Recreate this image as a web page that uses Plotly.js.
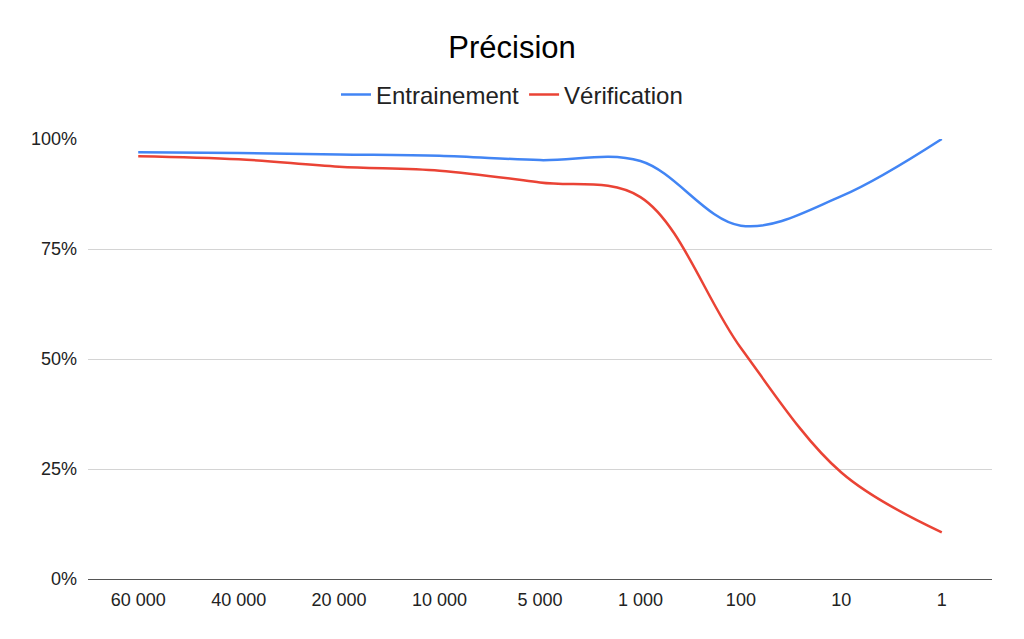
<!DOCTYPE html>
<html>
<head>
<meta charset="utf-8">
<script src="https://cdn.plot.ly/plotly-3.0.1.min.js"></script>
<style>html,body{margin:0;padding:0;background:#fff;}#chart{width:1024px;height:639px;}</style>
</head>
<body>
<div id="chart"></div>
<script>
const categories = ["60 000", "40 000", "20 000", "10 000", "5 000", "1 000", "100", "10", "1"];
const entrainement = [0.970, 0.968, 0.965, 0.962, 0.952, 0.950, 0.803, 0.870, 1.000];
const verification = [0.961, 0.954, 0.937, 0.928, 0.901, 0.868, 0.525, 0.242, 0.106];
const yTickVals = [0, 0.25, 0.5, 0.75, 1];
const yTickText = ["0%", "25%", "50%", "75%", "100%"];

const font = "Arial, 'Liberation Sans', sans-serif";

const traces = [
  {x: categories, y: entrainement, name: "Entrainement", type: "scatter", mode: "lines",
   line: {color: "#4285F4", width: 2.5, shape: "spline", smoothing: 1}},
  {x: categories, y: verification, name: "Vérification", type: "scatter", mode: "lines",
   line: {color: "#EA4335", width: 2.5, shape: "spline", smoothing: 1}}
];

const layout = {
  width: 1024, height: 639,
  margin: {l: 88, r: 32, t: 139, b: 60},
  paper_bgcolor: "#fff", plot_bgcolor: "#fff",
  font: {family: font, color: "#222", size: 18},
  title: {text: "Précision", x: 0.5, xref: "container", xanchor: "center", y: 1 - 47/639, yref: "container", yanchor: "middle",
          font: {family: font, size: 31, color: "#000"}},
  showlegend: true,
  legend: {orientation: "h", x: 0.5, xanchor: "center", xref: "container", y: 1 - 95/639, yref: "container", yanchor: "middle",
           font: {family: font, size: 24, color: "#222"}, itemwidth: 30, traceorder: "normal"},
  xaxis: {type: "category", range: [-0.5, 8.5], tickvals: categories, ticktext: categories, showgrid: false,
          showline: true, linecolor: "#555", linewidth: 1, ticks: "", ticklabelstandoff: 4,
          tickfont: {family: font, size: 18, color: "#222"}, zeroline: false, fixedrange: true},
  yaxis: {range: [0, 1], tickvals: yTickVals, ticktext: yTickText, showgrid: true,
          gridcolor: "#d4d4d4", gridwidth: 1, zeroline: false, showline: false, ticks: "",
          ticklabelstandoff: 10, tickfont: {family: font, size: 18, color: "#222"}, fixedrange: true}
};

Plotly.newPlot("chart", traces, layout, {displayModeBar: false, staticPlot: true});
</script>
</body>
</html>
